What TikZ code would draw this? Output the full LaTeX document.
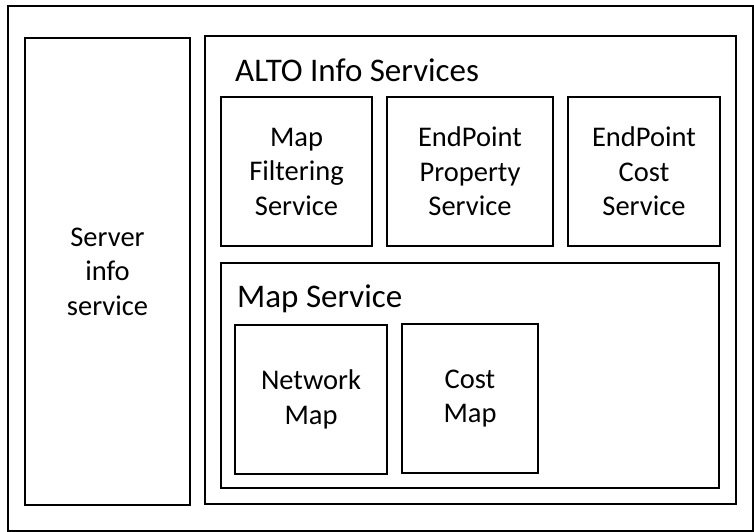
\documentclass[tikz,border=0pt]{standalone}
\usepackage{fontspec}
\setmainfont{Carlito}
\begin{document}
\begin{tikzpicture}[x=1pt,y=-1pt,
  box/.style={draw=black, line width=1.6pt, inner sep=0pt, outer sep=0pt, align=center,
    font=\fontsize{28.5pt}{34.5pt}\selectfont},
  title/.style={anchor=base west, inner sep=0pt, font=\fontsize{33pt}{38pt}\selectfont}]
\useasboundingbox (0,0) rectangle (754,532);
\node[box, minimum width=745pt, minimum height=525pt] (outer) at (380.5,268.5) {};
\node[box, minimum width=165pt, minimum height=467pt] (server) at (107.5,271.5) {Server\\info\\service};
\node[box, minimum width=531pt, minimum height=468pt] (alto) at (470.5,270) {};
\node[title] (altotitle) at (235,82) {ALTO Info Services};
\node[box, minimum width=151pt, minimum height=149pt] (mapfilt) at (296.5,171.5) {Map\\Filtering\\Service};
\node[box, minimum width=166pt, minimum height=149pt] (epprop) at (470,171.5) {EndPoint\\Property\\Service};
\node[box, minimum width=152pt, minimum height=149pt] (epcost) at (644,171.5) {EndPoint\\Cost\\Service};
\node[box, minimum width=498pt, minimum height=225pt] (mapsvc) at (470,375.5) {};
\node[title] (mapsvctitle) at (237,307) {Map Service};
\node[box, minimum width=152pt, minimum height=149pt] (netmap) at (311,399.5) {Network\\Map};
\node[box, minimum width=136pt, minimum height=149pt] (costmap) at (470,398.5) {Cost\\Map};
\end{tikzpicture}
\end{document}
